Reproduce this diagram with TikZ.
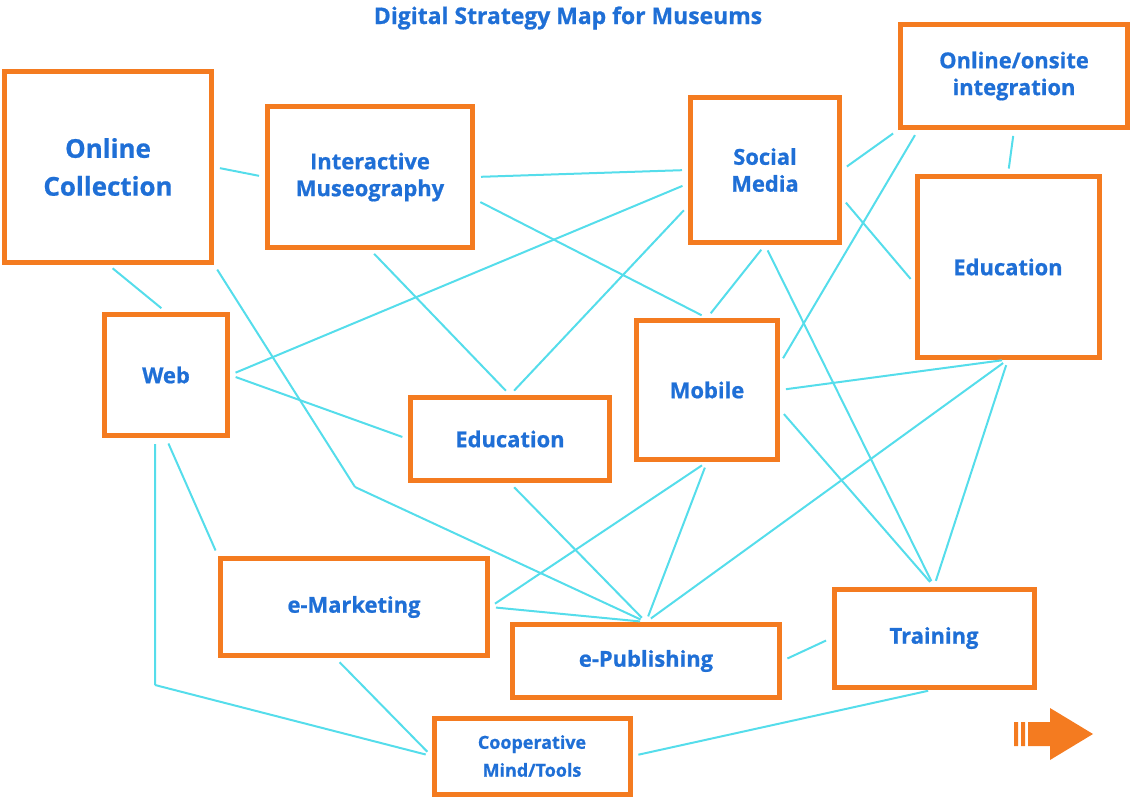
\documentclass[tikz,border=0pt]{standalone}
\usepackage{fontspec}
\setmainfont{Open Sans}[FakeBold=0.8]
\usepackage{tikz}
\definecolor{boxorange}{HTML}{F47B20}
\definecolor{linecyan}{HTML}{55DDEB}
\definecolor{textblue}{HTML}{1F6FD6}
\tikzset{
  topic/.style={draw=boxorange,line width=5bp,rectangle,align=center,
    text=textblue,font=\bfseries\fontsize{22}{27}\selectfont,inner sep=0pt},
  link/.style={draw=linecyan,line width=2bp,shorten >=6bp,shorten <=6bp},
}
\begin{document}
\begin{tikzpicture}[x=1bp,y=-1bp]
\useasboundingbox (0,0) rectangle (1134,800);
\node[text=textblue,font=\bfseries\fontsize{23}{27}\selectfont] (title) at (568,18) {Digital Strategy Map for Museums};
% topics
\node[topic,minimum width=207bp,minimum height=190bp,font=\bfseries\fontsize{26}{38}\selectfont] (oc) at (108,167) {Online\\Collection};
\node[topic,minimum width=205bp,minimum height=140bp] (im) at (370,177) {Interactive\\Museography};
\node[topic,minimum width=149bp,minimum height=145bp] (sm) at (765,170) {Social\\Media};
\node[topic,minimum width=227bp,minimum height=103bp] (oo) at (1014,76) {Online/onsite\\integration};
\node[topic,minimum width=182bp,minimum height=180bp] (edr) at (1008,267) {Education};
\node[topic,minimum width=123bp,minimum height=121bp] (web) at (166,375) {Web};
\node[topic,minimum width=141bp,minimum height=139bp] (mob) at (707,390) {Mobile};
\node[topic,minimum width=199bp,minimum height=83bp] (edm) at (510,439) {Education};
\node[topic,minimum width=267bp,minimum height=97bp] (emk) at (354,607) {e-Marketing};
\node[topic,minimum width=267bp,minimum height=73bp] (epub) at (646,661) {e-Publishing};
\node[topic,minimum width=200bp,minimum height=98bp] (tr) at (934,638) {Training};
\node[topic,minimum width=196bp,minimum height=76bp,font=\bfseries\fontsize{18}{28}\selectfont] (coop) at (532,756) {Cooperative\\Mind/Tools};
\coordinate (bendoc) at (355,487);
\coordinate (bendweb) at (155,685);
% links
\draw[link] (oc.east) -- (im.west);
\draw[link] (oc.south) -- (web.north);
\draw[link,shorten >=0bp] (oc.south east) -- (bendoc);
\draw[link,shorten <=0bp] (bendoc) -- (epub.north);
\draw[link] (im.east) -- (sm.west);
\draw[link] (im.-12) -- (mob.north);
\draw[link] (im.south) -- (edm.north);
\draw[link] (web.east) -- (sm.190);
\draw[link] (web.east) -- (edm.west);
\draw[link] (web.south) -- (emk.north west);
\draw[link,shorten >=0bp] ([xshift=-11bp]web.south) -- (bendweb);
\draw[link,shorten <=0bp] (bendweb) -- (coop.west);
\draw[link] (edm.north) -- (sm.205);
\draw[link] (edm.south) -- (epub.north);
\draw[link] (mob.north) -- (sm.south);
\draw[link] (sm.south) -- (tr.north);
\draw[link] (sm.east) -- (oo.south west);
\draw[link] (sm.-20) -- (edr.190);
\draw[link] (mob.20) -- ([xshift=20bp]oo.south west);
\draw[link] (oo.south) -- (edr.north);
\draw[link] (mob.east) -- (edr.south);
\draw[link] (mob.-15) -- (tr.north);
\draw[link] (edr.south) -- (tr.north);
\draw[link] (edr.south) -- (epub.north);
\draw[link] (mob.south) -- (emk.east);
\draw[link] (mob.south) -- (epub.north);
\draw[link] (emk.east) -- (epub.north);
\draw[link] (emk.-110) -- (coop.west);
\draw[link] (epub.east) -- (tr.west);
\draw[link] (coop.east) -- (tr.south);
% arrow mark
\fill[boxorange] (1014,722) rectangle (1018,746) (1021,722) rectangle (1025,746)
  (1028,722) rectangle (1050,746) (1050,708) -- (1093,734) -- (1050,760) -- cycle;
\end{tikzpicture}
\end{document}
